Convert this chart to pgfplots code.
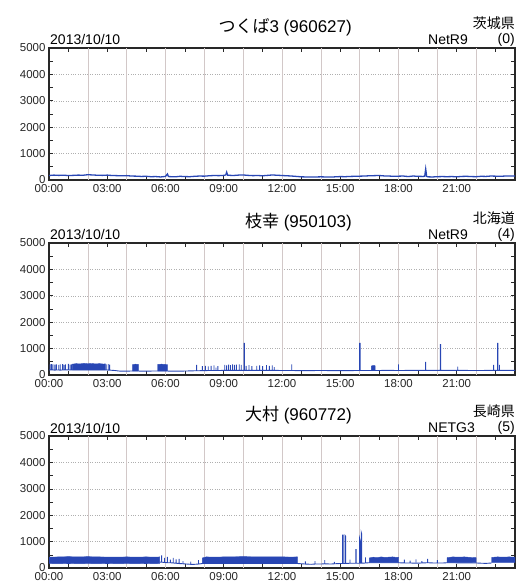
\documentclass[border=0pt]{standalone}
\usepackage{fontspec}
\setmainfont{Liberation Sans}
\newfontfamily\cjk{Noto Sans CJK JP}
\usepackage{pgfplots}
\pgfplotsset{compat=1.18}
\definecolor{sig}{RGB}{40,70,180}
\definecolor{vgrid}{RGB}{210,200,200}
\definecolor{hgrid}{RGB}{175,175,175}
\definecolor{frame}{RGB}{40,40,40}
\pgfplotsset{panel/.style={
  scale only axis, width=466pt, height=132pt,
  xmin=0, xmax=24, ymin=0, ymax=5000,
  xtick={0,3,...,21},
  xticklabels={00:00,03:00,06:00,09:00,12:00,15:00,18:00,21:00},
  minor xtick={1,2,4,5,7,8,10,11,13,14,16,17,19,20,22,23},
  extra x ticks={2,4,...,22},
  extra x tick labels={},
  extra x tick style={grid=major, major tick length=0pt, major grid style={vgrid, line width=0.5pt}},
  ytick={0,1000,...,5000},
  minor ytick={500,1500,...,4500},
  ymajorgrids=true,
  y grid style={hgrid, dotted, line width=0.5pt},
  tick align=inside,
  major tick length=4pt, minor tick length=4pt,
  tick style={frame, line width=0.6pt},
  axis line style={frame, line width=1.3pt},
  /pgf/number format/assume math mode=true,
  /pgf/number format/1000 sep={},
  tick label style={font=\fontsize{11.5}{13}\selectfont, text=black!85},
  xticklabel style={yshift=-1pt},
  scaled y ticks=false,
}}
\begin{document}
\begin{tikzpicture}[x=1pt,y=1pt]
\useasboundingbox (0,0) rectangle (516,583);
% ---------------- Panel 1
\begin{axis}[panel, at={(49pt,403pt)}, anchor=south west]
\addplot[sig, line width=1.3pt] coordinates {
(0,170)(0.25,185)(0.5,175)(0.75,180)(1,170)(1.25,175)(1.5,185)(1.75,180)(2,200)(2.25,190)(2.5,180)(2.75,175)(3,185)(3.25,170)(3.5,165)(3.75,160)(4,165)(4.25,150)(4.5,145)(4.75,135)(5,140)(5.25,125)(5.5,130)(5.75,115)(6,135)(6.1,230)(6.15,130)(6.5,120)(6.75,140)(7,130)(7.25,125)(7.5,140)(7.75,150)(8,145)(8.25,160)(8.5,170)(8.75,165)(9,175)(9.1,190)(9.15,300)(9.2,180)(9.5,170)(9.75,185)(10,190)(10.25,175)(10.5,165)(10.75,170)(11,160)(11.25,175)(11.5,190)(11.75,180)(12,170)(12.25,160)(12.5,150)(12.75,135)(13,120)(13.25,115)(13.5,110)(13.75,115)(14,120)(14.25,115)(14.5,110)(14.75,120)(15,130)(15.25,125)(15.5,135)(15.75,140)(16,145)(16.25,150)(16.5,160)(16.75,165)(17,170)(17.25,155)(17.5,150)(17.75,140)(18,145)(18.25,150)(18.5,130)(18.75,150)(19,140)(19.25,135)(19.35,140)(19.4,420)(19.45,140)(19.5,120)(19.75,115)(20,125)(20.25,130)(20.5,125)(20.75,130)(21,120)(21.25,135)(21.5,140)(21.75,130)(22,125)(22.25,140)(22.5,135)(22.75,150)(23,145)(23.25,140)(23.5,150)(23.75,155)(24,150)
};
\end{axis}
% ---------------- Panel 2
\begin{axis}[panel, at={(49pt,208pt)}, anchor=south west]
\addplot[sig, fill=sig, line width=0.4pt] coordinates {
(1.2,190)(1.2,410)(1.4,430)(1.6,420)(1.8,440)(2.0,425)(2.2,435)(2.4,420)(2.6,430)(2.8,415)(2.9,420)(2.9,190)(1.2,190)};
\addplot[sig, fill=sig, line width=0.4pt] coordinates {
(4.3,150)(4.3,390)(4.45,410)(4.6,400)(4.6,150)(4.3,150)};
\addplot[sig, fill=sig, line width=0.4pt] coordinates {
(5.6,150)(5.6,400)(5.8,410)(6.0,400)(6.1,395)(6.1,150)(5.6,150)};
\addplot[sig, fill=sig, line width=0.4pt] coordinates {
(16.6,170)(16.6,340)(16.7,360)(16.8,350)(16.8,170)(16.6,170)};
\addplot[sig, line width=0.9pt] coordinates {
(0,190)(0.05,190)(0.05,400)(0.05,190)(0.12,195)(0.12,410)(0.12,195)(0.2,190)(0.2,400)(0.2,190)(0.3,185)(0.3,390)(0.3,185)(0.38,190)(0.38,400)(0.38,190)(0.5,190)(0.5,380)(0.5,190)(0.58,185)(0.58,400)(0.58,185)(0.7,190)(0.7,410)(0.7,190)(0.78,190)(0.78,380)(0.78,190)(0.85,195)(0.85,400)(0.85,195)(1.0,190)(1.0,420)(1.0,190)(1.08,190)(1.08,390)(1.08,190)(1.15,190)(1.15,400)(1.15,190)(1.2,190)
(2.9,190)(2.95,190)(2.95,400)(2.95,190)(3.05,185)(3.05,410)(3.05,185)(3.12,185)(3.12,390)(3.12,185)(3.2,180)(3.4,170)(3.6,150)(3.9,145)(4.2,150)(4.6,150)(5.0,145)(5.3,150)(6.1,150)(6.5,145)(7.0,150)(7.5,160)
(7.6,160)(7.6,380)(7.6,160)(7.9,165)(7.9,340)(7.9,165)(8.05,165)(8.05,350)(8.05,165)(8.2,170)(8.2,330)(8.2,170)(8.35,170)(8.35,350)(8.35,170)(8.5,170)(8.5,360)(8.5,170)(8.6,170)(8.6,280)(8.6,170)(8.7,170)(8.7,340)(8.7,170)
(9.05,175)(9.05,380)(9.05,175)(9.15,175)(9.15,360)(9.15,175)(9.25,175)(9.25,390)(9.25,175)(9.35,175)(9.35,370)(9.35,175)(9.45,175)(9.45,400)(9.45,175)(9.55,175)(9.55,380)(9.55,175)(9.65,175)(9.65,390)(9.65,175)(9.8,175)(9.8,400)(9.8,175)(9.9,175)(9.9,380)(9.9,175)
(10.05,175)(10.05,1200)(10.07,1200)(10.07,175)(10.15,175)(10.15,350)(10.15,175)(10.3,175)(10.3,370)(10.3,175)(10.45,175)(10.45,340)(10.45,175)
(10.7,175)(10.7,350)(10.7,175)(10.85,175)(10.85,360)(10.85,175)(11.0,175)(11.0,340)(11.0,175)(11.2,175)(11.2,370)(11.2,175)(11.35,175)(11.35,350)(11.35,175)(11.5,175)(11.5,360)(11.5,175)(11.6,175)(11.6,300)(11.6,175)
(12.0,170)(12.5,170)(12.5,400)(12.5,170)(13.0,165)(14.0,170)(15.0,165)(16.0,170)(16.0,1200)(16.02,1200)(16.02,170)(16.6,170)(16.8,170)(17.5,175)(18.0,170)(18.0,400)(18.0,170)(18.7,175)(19.4,175)(19.4,500)(19.4,175)(20.15,175)(20.15,1150)(20.17,1150)(20.17,175)(21.05,175)(21.05,320)(21.05,175)(22.0,170)(22.9,175)(22.9,380)(22.9,175)(23.1,175)(23.1,1200)(23.12,1200)(23.12,175)(23.2,175)(23.2,380)(23.2,175)(24,175)
};
\end{axis}
% ---------------- Panel 3
\begin{axis}[panel, at={(49pt,15pt)}, anchor=south west]
\addplot[sig, fill=sig, line width=0.4pt] coordinates {
(0,170)(0,410)(0.5,420)(1,430)(1.5,420)(2,430)(2.5,420)(3,415)(3.5,410)(4,420)(4.5,410)(5,420)(5.5,410)(5.7,420)(5.7,170)(5,160)(4,170)(3,160)(2,170)(1,160)(0,170)};
\addplot[sig, fill=sig, line width=0.4pt] coordinates {
(7.9,180)(7.9,380)(8.1,420)(8.5,410)(9,420)(9.5,425)(10,430)(10.5,425)(11,420)(11.5,425)(12,420)(12.5,415)(12.8,420)(12.8,170)(12,180)(11,175)(10,180)(9,175)(8,180)(7.9,180)};
\addplot[sig, fill=sig, line width=0.4pt] coordinates {
(16.5,200)(16.5,380)(16.7,410)(16.9,390)(17.1,420)(17.3,400)(17.5,410)(17.7,420)(17.9,400)(18.0,410)(18.0,200)(16.5,200)};
\addplot[sig, fill=sig, line width=0.4pt] coordinates {
(20.5,200)(20.5,390)(20.8,420)(21.1,410)(21.4,420)(21.7,400)(22.0,390)(22.0,200)(20.5,200)};
\addplot[sig, fill=sig, line width=0.4pt] coordinates {
(22.8,200)(22.8,400)(23.1,420)(23.4,410)(23.7,420)(24,410)(24,200)(22.8,200)};
\addplot[sig, line width=0.9pt] coordinates {
(5.7,220)(5.8,220)(5.8,480)(5.8,220)(5.95,210)(5.95,380)(5.95,210)(6.1,200)(6.1,420)(6.1,200)(6.25,200)(6.25,320)(6.25,200)(6.4,190)(6.4,380)(6.4,190)(6.55,180)(6.55,330)(6.55,180)(6.7,170)(6.7,350)(6.7,170)(6.9,160)(6.9,260)(6.9,160)(7.1,150)(7.3,140)(7.3,240)(7.3,140)(7.5,140)(7.7,150)(7.7,300)(7.7,150)(7.9,170)
(12.8,170)(13,160)(13.2,150)(13.2,250)(13.2,150)(13.5,140)(13.7,150)(13.7,260)(13.7,150)(14,150)(14.2,160)(14.2,300)(14.2,160)(14.5,150)(14.7,160)(14.7,230)(14.7,160)(15.0,170)(15.12,170)(15.12,1250)(15.15,1250)(15.15,170)(15.25,170)(15.25,1230)(15.28,1200)(15.28,170)(15.5,180)(15.5,320)(15.5,180)(15.8,180)(15.8,700)(15.82,700)(15.82,180)(16.0,180)(16.0,1100)(16.03,1000)(16.03,180)(16.08,180)(16.08,1350)(16.1,1300)(16.1,180)(16.3,190)(16.3,400)(16.3,190)(16.5,200)
(18,200)(18.3,190)(18.3,320)(18.3,190)(18.6,190)(18.6,280)(18.6,190)(18.9,180)(18.9,330)(18.9,180)(19.2,190)(19.2,260)(19.2,190)(19.5,200)(19.5,350)(19.5,200)(19.8,190)(20.0,190)(20.0,300)(20.0,190)(20.3,190)(20.5,200)
(22,190)(22.3,180)(22.5,175)(22.8,190)
};
\end{axis}
% ---------------- Texts
\foreach \date in {543, 348, 155}{
  \node[anchor=west, inner sep=0pt, font=\fontsize{14}{16}\selectfont] at (50,\date) {2013/10/10};
}
\node[anchor=east, inner sep=0pt, font=\fontsize{17}{20}\selectfont] at (352,556) {{\cjk つくば}3 (960627)};
\node[anchor=east, inner sep=0pt, font=\fontsize{17}{20}\selectfont] at (352,361) {{\cjk 枝幸} (950103)};
\node[anchor=east, inner sep=0pt, font=\fontsize{17}{20}\selectfont] at (352,168) {{\cjk 大村} (960772)};
\node[anchor=east, inner sep=0pt, font=\fontsize{14}{16}\selectfont\cjk] at (515,560) {茨城県};
\node[anchor=east, inner sep=0pt, font=\fontsize{14}{16}\selectfont\cjk] at (515,365) {北海道};
\node[anchor=east, inner sep=0pt, font=\fontsize{14}{16}\selectfont\cjk] at (515,172) {長崎県};
\node[anchor=west, inner sep=0pt, font=\fontsize{14}{16}\selectfont] at (428,543) {NetR9};
\node[anchor=west, inner sep=0pt, font=\fontsize{14}{16}\selectfont] at (428,348) {NetR9};
\node[anchor=west, inner sep=0pt, font=\fontsize{14}{16}\selectfont] at (428,155) {NETG3};
\node[anchor=east, inner sep=0pt, font=\fontsize{14}{16}\selectfont] at (515,543) {(0)};
\node[anchor=east, inner sep=0pt, font=\fontsize{14}{16}\selectfont] at (515,348) {(4)};
\node[anchor=east, inner sep=0pt, font=\fontsize{14}{16}\selectfont] at (515,155) {(5)};
\end{tikzpicture}
\end{document}
